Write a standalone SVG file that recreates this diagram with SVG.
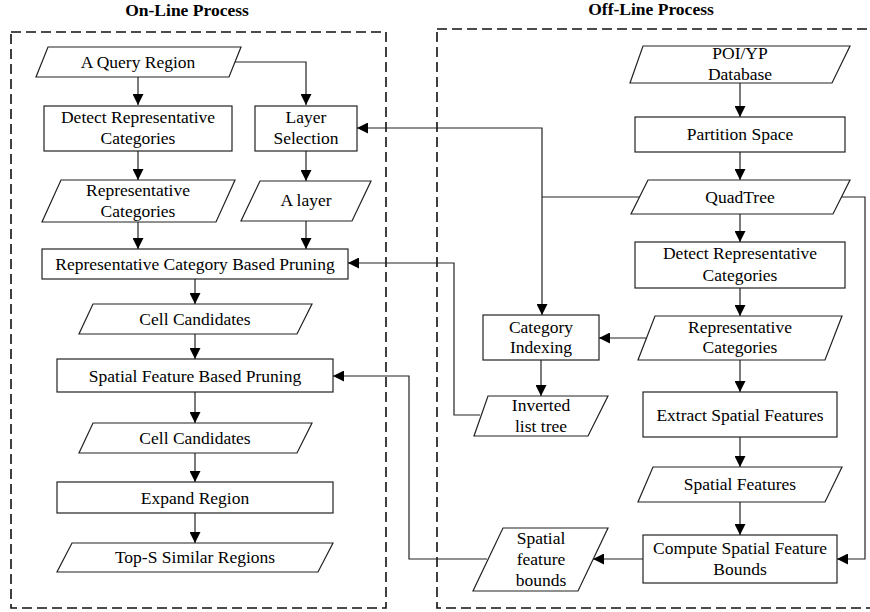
<svg xmlns="http://www.w3.org/2000/svg" width="870" height="612" viewBox="0 0 870 612">
<defs>
<marker id="ah" markerUnits="userSpaceOnUse" markerWidth="11" markerHeight="11" refX="11" refY="5.5" orient="auto">
<path d="M0,0 L11,5.5 L0,11 Z" fill="#000"/>
</marker>
<style>
.t{font-family:"Liberation Serif","Times New Roman",serif;font-size:17.5px;text-anchor:middle;fill:#000}
.h{font-family:"Liberation Serif","Times New Roman",serif;font-size:17.5px;font-weight:bold;text-anchor:middle;fill:#000}
.n{fill:#fff;stroke:#222;stroke-width:1.2}
.c{fill:none;stroke:#222;stroke-width:1.2}
.a{fill:none;stroke:#222;stroke-width:1.2;marker-end:url(#ah)}
.d{fill:none;stroke:#111;stroke-width:1.6;stroke-dasharray:10 5}
</style>
</defs>
<rect width="870" height="612" fill="#fff"/>
<g id="frames">
<text class="h" x="187" y="16">On-Line Process</text>
<text class="h" x="651" y="15">Off-Line Process</text>
<rect class="d" x="11" y="32" width="375" height="576"/>
<rect class="d" x="437" y="29" width="440" height="579"/>
</g>
<g id="connectors">
<path class="a" d="M235,62 H306 V105"/>
<path class="a" d="M138,77 V105"/>
<path class="a" d="M138,151 V180"/>
<path class="a" d="M306,151 V181"/>
<path class="a" d="M138,222 V249"/>
<path class="a" d="M306,221 V249"/>
<path class="a" d="M195,279 V304"/>
<path class="a" d="M195,334 V359"/>
<path class="a" d="M195,392 V423"/>
<path class="a" d="M195,453 V482"/>
<path class="a" d="M195,513 V543"/>
<path class="a" d="M740,83 V117"/>
<path class="a" d="M740,152 V180"/>
<path class="c" d="M640,197 H542"/>
<path class="a" d="M542,197 V128 H357"/>
<path class="a" d="M542,197 V315"/>
<path class="a" d="M841,197 H865 V559 H837"/>
<path class="a" d="M740,214 V242"/>
<path class="a" d="M740,288 V316"/>
<path class="a" d="M647,338 H599"/>
<path class="a" d="M541,360 V396"/>
<path class="a" d="M480,415 H454 V263 H348"/>
<path class="a" d="M740,360 V392"/>
<path class="a" d="M740,437 V467"/>
<path class="a" d="M740,502 V535"/>
<path class="a" d="M643,559 H593"/>
<path class="a" d="M487,559 H409 V376 H333"/>
</g>
<g id="n1"><path class="n" d="M48,47 H241 L229,77 H36 Z"/><text class="t" x="138" y="68">A Query Region</text></g>
<g id="n2"><rect class="n" x="44" y="106" width="188" height="45"/><text class="t" x="138" y="123">Detect Representative</text><text class="t" x="138" y="144">Categories</text></g>
<g id="n3"><rect class="n" x="255" y="106" width="102" height="45"/><text class="t" x="306" y="123">Layer</text><text class="t" x="306" y="144">Selection</text></g>
<g id="n4"><path class="n" d="M61,180 H235 L216,222 H42 Z"/><text class="t" x="138" y="196">Representative</text><text class="t" x="138" y="217">Categories</text></g>
<g id="n5"><path class="n" d="M260,181 H371 L352,221 H241 Z"/><text class="t" x="306" y="206">A layer</text></g>
<g id="n6"><rect class="n" x="42" y="249" width="306" height="30"/><text class="t" x="195" y="270">Representative Category Based Pruning</text></g>
<g id="n7"><path class="n" d="M93,304 H312 L297,334 H79 Z"/><text class="t" x="195" y="325">Cell Candidates</text></g>
<g id="n8"><rect class="n" x="57" y="359" width="276" height="33"/><text class="t" x="195" y="382">Spatial Feature Based Pruning</text></g>
<g id="n9"><path class="n" d="M93,423 H312 L297,453 H79 Z"/><text class="t" x="195" y="444">Cell Candidates</text></g>
<g id="n10"><rect class="n" x="57" y="482" width="276" height="31"/><text class="t" x="195" y="504">Expand Region</text></g>
<g id="n11"><path class="n" d="M72,543 H333 L318,572 H57 Z"/><text class="t" x="195" y="563">Top-S Similar Regions</text></g>
<g id="n12"><path class="n" d="M643,46 H850 L832,83 H630 Z"/><text class="t" x="740" y="59">POI/YP</text><text class="t" x="740" y="80">Database</text></g>
<g id="n13"><rect class="n" x="635" y="117" width="210" height="35"/><text class="t" x="740" y="140">Partition Space</text></g>
<g id="n14"><path class="n" d="M648,180 H850 L833,214 H631 Z"/><text class="t" x="740" y="203">QuadTree</text></g>
<g id="n15"><rect class="n" x="635" y="242" width="210" height="46"/><text class="t" x="740" y="259">Detect Representative</text><text class="t" x="740" y="281">Categories</text></g>
<g id="n16"><path class="n" d="M655,316 H842 L825,360 H638 Z"/><text class="t" x="740" y="333">Representative</text><text class="t" x="740" y="353">Categories</text></g>
<g id="n17"><rect class="n" x="483" y="315" width="116" height="45"/><text class="t" x="541" y="333">Category</text><text class="t" x="541" y="353">Indexing</text></g>
<g id="n18"><path class="n" d="M488,396 H608 L588,436 H474 Z"/><text class="t" x="541" y="411">Inverted</text><text class="t" x="541" y="432">list tree</text></g>
<g id="n19"><rect class="n" x="643" y="392" width="194" height="45"/><text class="t" x="740" y="421">Extract Spatial Features</text></g>
<g id="n20"><path class="n" d="M653,467 H842 L825,502 H638 Z"/><text class="t" x="740" y="490">Spatial Features</text></g>
<g id="n21"><rect class="n" x="643" y="535" width="194" height="48"/><text class="t" x="740" y="554">Compute Spatial Feature</text><text class="t" x="740" y="575">Bounds</text></g>
<g id="n22"><path class="n" d="M503,528 H608 L578,591 H473 Z"/><text class="t" x="541" y="544">Spatial</text><text class="t" x="541" y="565">feature</text><text class="t" x="541" y="586">bounds</text></g>
</svg>
